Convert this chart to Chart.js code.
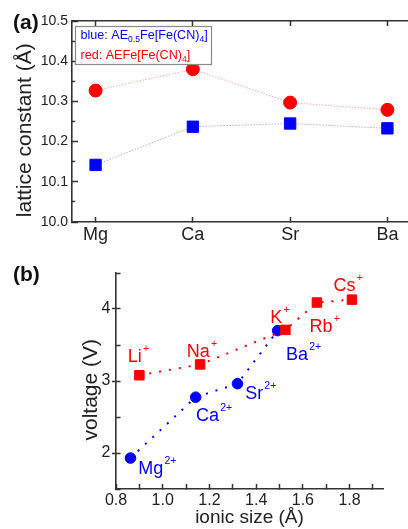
<!DOCTYPE html>
<html><head><meta charset="utf-8">
<script src="https://cdn.jsdelivr.net/npm/chart.js@4"></script>
<style>
html,body{margin:0;padding:0;background:#fff;overflow:hidden;width:408px;height:529px;}
.tag{position:absolute;font:bold 21px "Liberation Sans",Arial,sans-serif;line-height:21px;color:#111;}
</style></head><body>
<canvas id="cA" width="420" height="258" style="position:absolute;left:0;top:0"></canvas>
<canvas id="cB" width="408" height="271" style="position:absolute;left:0;top:258px"></canvas>
<div class="tag" style="left:13px;top:11px">(a)</div>
<div class="tag" style="left:13px;top:263px">(b)</div>
<script>
// ---------- data: panel (a) ----------
const categoriesA = ['Mg', 'Ca', 'Sr', 'Ba'];
const blueA = [10.142, 10.237, 10.245, 10.233];   // AE0.5Fe[Fe(CN)4]
const redA  = [10.327, 10.380, 10.297, 10.279];   // AEFe[Fe(CN)4]
const yTicksA = [10.0, 10.1, 10.2, 10.3, 10.4, 10.5];
const yMinorA = [10.05, 10.15, 10.25, 10.35, 10.45];
const legendBlue = [['blue: AE', ''], ['0.5', 'sub'], ['Fe[Fe(CN)', ''], ['4', 'sub'], [']', '']];
const legendRed  = [['red: AEFe[Fe(CN)', ''], ['4', 'sub'], [']', '']];

// ---------- data: panel (b) ----------
const alkaliNames = ['Li', 'Na', 'K', 'Rb', 'Cs'];
const alkaliSize  = [0.90, 1.16, 1.525, 1.66, 1.81];
const alkaliV     = [3.08, 3.23, 3.71, 4.09, 4.13];
const aeNames = ['Mg', 'Ca', 'Sr', 'Ba'];
const aeSize  = [0.862, 1.141, 1.32, 1.492];
const aeV     = [1.93, 2.775, 2.963, 3.70];
const xTicksB  = [0.8, 0.9, 1.0, 1.1, 1.2, 1.3, 1.4, 1.5, 1.6, 1.7, 1.8, 1.9];
const xLabelsB = [0.8, 1.0, 1.2, 1.4, 1.6, 1.8];
const yTicksB  = [2, 3, 4];
const yMinorB  = [1.5, 2, 2.5, 3, 3.5, 4, 4.5];

const FONT = '"Liberation Sans", Arial, sans-serif';
Chart.defaults.font.family = FONT;
Chart.defaults.color = '#222';
const AX = '#333';

function setTicks(list) { return s => { s.ticks = list.map(v => ({ value: v })); }; }

// rich text with sub/superscripts
function drawRich(ctx, x, y, parts, size, color) {
  ctx.fillStyle = color;
  ctx.textBaseline = 'alphabetic';
  ctx.textAlign = 'left';
  for (const [t, kind] of parts) {
    let fs = size, dy = 0;
    if (kind === 'sub') { fs = size * 0.68; dy = size * 0.28; }
    if (kind === 'sup') { fs = size * 0.58; dy = -size * 0.56; }
    ctx.font = fs + 'px ' + FONT;
    ctx.fillText(t, x, y + dy);
    x += ctx.measureText(t).width;
  }
  return x;
}

const legendPlugin = {
  id: 'legendA',
  afterDatasetsDraw(chart, args, o) {
    const ctx = chart.ctx;
    ctx.save();
    ctx.fillStyle = '#fff';
    ctx.fillRect(o.x, o.y, o.w, o.h);
    ctx.strokeStyle = '#8a8a8a';
    ctx.lineWidth = 1.2;
    ctx.strokeRect(o.x + 0.5, o.y + 0.5, o.w, o.h);
    drawRich(ctx, o.x + 5.5, o.y + 12.8, legendBlue, 12.6, '#0000ff');
    drawRich(ctx, o.x + 5.5, o.y + 32.8, legendRed, 12.6, '#ff0000');
    ctx.restore();
  }
};

const ionLabelPlugin = {
  id: 'ionLabels',
  afterDatasetsDraw(chart, args, o) {
    const ctx = chart.ctx;
    ctx.save();
    o.sets.forEach(set => {
      const meta = chart.getDatasetMeta(set.dataset);
      meta.data.forEach((pt, i) => {
        const [dx, dy] = set.offsets[i];
        let x = pt.x + dx, y = pt.y + dy;
        ctx.fillStyle = set.color;
        ctx.textBaseline = 'alphabetic';
        ctx.textAlign = 'left';
        ctx.font = '18px ' + FONT;
        ctx.fillText(set.names[i], x, y);
        x += ctx.measureText(set.names[i]).width + 1.2;
        ctx.font = '10.5px ' + FONT;
        ctx.fillText(set.charge, x, y - 10);
      });
    });
    ctx.restore();
  }
};

// ---------- chart (a) ----------
const xMinA = 0.7576, xMaxA = 4.2424;
new Chart(document.getElementById('cA'), {
  type: 'scatter',
  data: {
    datasets: [
      {
        data: redA.map((v, i) => ({ x: i + 1, y: v })),
        showLine: true, borderColor: 'rgba(255,70,70,0.45)', borderWidth: 1, borderDash: [1.5, 1.5],
        pointStyle: 'circle', pointRadius: 6.5, pointBackgroundColor: '#ff0000',
        pointBorderColor: '#ff0000', pointBorderWidth: 1, yAxisID: 'y', xAxisID: 'x'
      },
      {
        data: blueA.map((v, i) => ({ x: i + 1, y: v })),
        showLine: true, borderColor: 'rgba(70,70,255,0.45)', borderWidth: 1, borderDash: [1.5, 1.5],
        pointStyle: 'rect', pointRadius: 8, pointBackgroundColor: '#0000ff',
        pointBorderColor: '#0000ff', pointBorderWidth: 1, yAxisID: 'y', xAxisID: 'x'
      }
    ]
  },
  options: {
    responsive: false, animation: false, devicePixelRatio: 1, events: [],
    layout: { padding: { left: 0, right: 3, top: 0, bottom: 0 } },
    plugins: {
      legend: { display: false }, tooltip: { enabled: false },
      legendA: { x: 75, y: 26, w: 136, h: 38 }
    },
    scales: {
      x: {
        type: 'linear', position: 'bottom', min: xMinA, max: xMaxA,
        afterBuildTicks: setTicks(categoriesA.map((c, i) => i + 1)),
        ticks: { callback: v => categoriesA[Math.round(v) - 1] || '', font: { size: 18 }, padding: 7.5, maxRotation: 0, autoSkip: false, color: '#222' },
        grid: { drawOnChartArea: false, tickLength: -5, tickWidth: 1.5, tickColor: AX },
        border: { color: AX, width: 1.6 },
        afterFit: s => { s.height = 36; }
      },
      x2: {
        type: 'linear', position: 'top', min: xMinA, max: xMaxA,
        afterBuildTicks: setTicks(categoriesA.map((c, i) => i + 1)),
        ticks: { display: false },
        grid: { drawOnChartArea: false, tickLength: -5, tickWidth: 1.5, tickColor: AX },
        border: { color: AX, width: 1.6 },
        afterFit: s => { s.height = 21; }
      },
      y: {
        type: 'linear', position: 'left', weight: 1, min: 10.0, max: 10.5,
        afterBuildTicks: setTicks(yTicksA),
        ticks: { callback: v => Number(v).toFixed(1), font: { size: 14 }, padding: 10, color: '#222' },
        grid: { drawOnChartArea: false, tickLength: -6, tickWidth: 1.5, tickColor: AX },
        border: { color: AX, width: 1.6 },
        title: { display: true, text: 'lattice constant (Å)   ', font: { size: 21 }, color: '#222', padding: { top: 13, bottom: 0 } },
        afterFit: s => { s.width = 72; }
      },
      y2: {
        type: 'linear', position: 'left', weight: 0, min: 10.0, max: 10.5,
        afterBuildTicks: setTicks(yMinorA),
        ticks: { display: false },
        grid: { drawOnChartArea: false, tickLength: -3, tickWidth: 1.5, tickColor: AX },
        border: { display: false },
        afterFit: s => { s.width = 0; }
      }
    }
  },
  plugins: [legendPlugin]
});

// ---------- chart (b) ----------
new Chart(document.getElementById('cB'), {
  type: 'scatter',
  data: {
    datasets: [
      {
        data: alkaliSize.map((v, i) => ({ x: v, y: alkaliV[i] })),
        showLine: true, borderColor: '#ff0000', borderWidth: 2, borderDash: [2, 8],
        pointStyle: 'rect', pointRadius: 6.7, pointBackgroundColor: '#ff0000',
        pointBorderColor: '#ff0000', pointBorderWidth: 1
      },
      {
        data: aeSize.map((v, i) => ({ x: v, y: aeV[i] })),
        showLine: true, borderColor: '#0000ff', borderWidth: 2, borderDash: [2, 8],
        pointStyle: 'circle', pointRadius: 5.3, pointBackgroundColor: '#0000ff',
        pointBorderColor: '#0000ff', pointBorderWidth: 1
      }
    ]
  },
  options: {
    responsive: false, animation: false, devicePixelRatio: 1, events: [],
    layout: { padding: { left: 0, right: 25, top: 15, bottom: 0 } },
    plugins: {
      legend: { display: false }, tooltip: { enabled: false },
      ionLabels: {
        sets: [
          { dataset: 0, names: alkaliNames, charge: '+', color: '#ff0000',
            offsets: [[-11.6, -13], [-13.3, -7.5], [-15, -7.3], [-7.4, 29.4], [-18.4, -9]] },
          { dataset: 1, names: aeNames, charge: '2+', color: '#0000ff',
            offsets: [[7.7, 15.6], [0.3, 23.5], [7.7, 15.6], [8.3, 29.3]] }
        ]
      }
    },
    scales: {
      x: {
        type: 'linear', position: 'bottom', min: 0.8, max: 1.943,
        afterBuildTicks: setTicks(xTicksB),
        ticks: { callback: v => xLabelsB.some(l => Math.abs(l - v) < 1e-6) ? Number(v).toFixed(1) : '', font: { size: 16 }, padding: 6.5, maxRotation: 0, autoSkip: false, color: '#222' },
        grid: { drawOnChartArea: false, tickLength: -5, tickWidth: 1.5, tickColor: AX },
        border: { color: AX, width: 1.6 },
        title: { display: true, text: 'ionic size (Å)', font: { size: 19 }, color: '#222', padding: { top: 0, bottom: 0 } },
        afterFit: s => { s.height = 40; }
      },
      y: {
        type: 'linear', position: 'left', weight: 1, min: 1.5, max: 4.5,
        afterBuildTicks: setTicks(yTicksB),
        ticks: { callback: v => String(v), font: { size: 16 }, padding: 1.5, color: '#222' },
        grid: { drawOnChartArea: false, tickLength: 4, tickWidth: 1.5, tickColor: AX },
        border: { color: AX, width: 1.6 },
        title: { display: true, text: 'voltage (V)   ', font: { size: 21 }, color: '#222', padding: { top: 79, bottom: 0 } },
        afterFit: s => { s.width = 116; }
      },
      y2: {
        type: 'linear', position: 'left', weight: 0, min: 1.5, max: 4.5,
        afterBuildTicks: setTicks(yMinorB),
        ticks: { display: false },
        grid: { drawOnChartArea: false, tickLength: -4.5, tickWidth: 1.5, tickColor: AX },
        border: { display: false },
        afterFit: s => { s.width = 0; }
      }
    }
  },
  plugins: [ionLabelPlugin]
});
</script>
</body></html>
